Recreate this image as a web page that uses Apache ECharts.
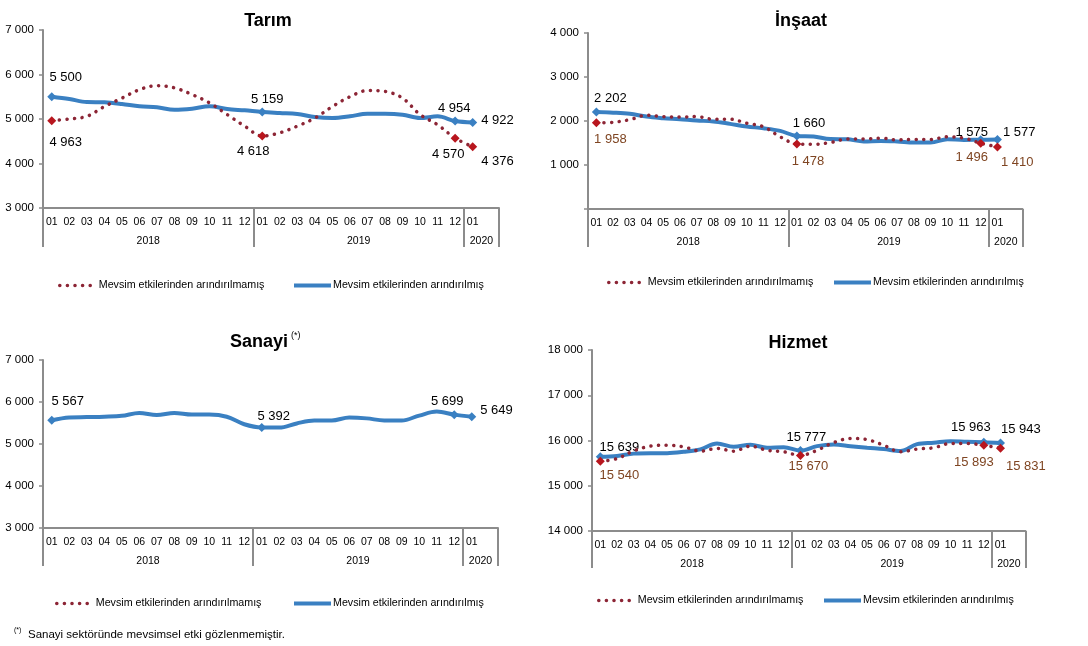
<!DOCTYPE html>
<html>
<head>
<meta charset="utf-8">
<title>İstihdam - sektörler</title>
<script src="https://cdn.jsdelivr.net/npm/echarts@6/dist/echarts.min.js"></script>
<style type="text/css">
html, body { margin: 0; padding: 0; background: #ffffff; }
#main { width: 1088px; height: 646px; }
</style>
</head>
<body>
<div id="main"></div>
<script type="text/javascript">
// kategoriler (ay) - sondaki bos kategori Excel'deki gibi
var months = ['01','02','03','04','05','06','07','08','09','10','11','12',
              '01','02','03','04','05','06','07','08','09','10','11','12','01',''];
// yil etiketleri (sinirlar arasi ortada)
var yearLabels = ['','','','','','','2018','','','','','','','','','','','','2019','','','','','','','2020',''];
var yearBounds = [0, 12, 24, 26];

var RED = 'Mevsim etkilerinden arındırılmamış';
var BLUE = 'Mevsim etkilerinden arındırılmış';

// Tarım
var tarimRaw = [4963, 5000, 5060, 5280, 5470, 5660, 5750, 5700, 5550, 5360, 5100, 4840, 4618,
                4690, 4840, 5020, 5280, 5500, 5640, 5620, 5470, 5100, 4870, 4570, 4376];
var tarimSa  = [5500, 5449, 5381, 5374, 5336, 5284, 5262, 5209, 5232, 5284, 5224, 5194, 5159,
                5135, 5112, 5045, 5022, 5060, 5120, 5120, 5097, 5022, 5060, 4954, 4922];
// İnşaat
var insaatRaw = [1958, 1970, 2030, 2130, 2100, 2090, 2100, 2040, 2040, 1950, 1870, 1640, 1478,
                 1470, 1510, 1590, 1590, 1610, 1570, 1580, 1580, 1640, 1610, 1496, 1410];
var insaatSa  = [2202, 2190, 2165, 2100, 2065, 2040, 2010, 1990, 1935, 1875, 1835, 1775, 1660,
                 1648, 1590, 1585, 1535, 1548, 1535, 1512, 1510, 1585, 1570, 1575, 1577];
// Sanayi
var sanayiSa = [5567, 5630, 5640, 5650, 5670, 5740, 5690, 5740, 5700, 5700, 5650, 5470, 5392,
                5390, 5490, 5560, 5560, 5630, 5610, 5560, 5560, 5677, 5772, 5699, 5649];
// Hizmet
var hizmetRaw = [15540, 15600, 15770, 15875, 15895, 15860, 15765, 15825, 15765, 15875, 15785, 15750, 15670,
                 15785, 15955, 16045, 16020, 15895, 15750, 15810, 15840, 15935, 15935, 15893, 15831];
var hizmetSa  = [15639, 15660, 15710, 15720, 15720, 15750, 15805, 15935, 15860, 15905, 15840, 15850, 15777,
                 15875, 15910, 15875, 15840, 15810, 15770, 15920, 15950, 15985, 15970, 15963, 15943];

// isaretli / etiketli noktalar
var markIdx = [0, 12, 23, 24];

var FONT = '"Liberation Sans", Arial, sans-serif';
var C_BLUE = '#3a80c2';
var C_DOT = '#8c2535';
var C_RED = '#b8161e';
var C_BROWN = '#7f4522';
var C_AXIS = '#8c8c8c';

var blueLine = { color: C_BLUE, width: 4 };
var dotLine = { color: C_DOT, width: 3.5, type: [0.1, 7.5], cap: 'round' };

function fmt(v) {
    if (v === 0) return '';
    return String(v).replace(/\B(?=(\d{3})+(?!\d))/g, ' ');
}

// etiket yerlesimi: index -> [konum, dx, dy]
function makeData(values, color, labelColor, lbl) {
    return values.map(function (v, i) {
        if (markIdx.indexOf(i) < 0) return v;
        var l = lbl[i];
        return {
            value: v,
            symbol: 'diamond',
            symbolSize: 9,
            itemStyle: { color: color },
            label: {
                show: true, position: l[0], offset: [l[1], l[2]], distance: 5,
                color: labelColor, fontSize: 13, fontFamily: FONT,
                formatter: function (p) { return fmt(p.value); }
            }
        };
    });
}

var grids = [
    { left: 43, top: 30, width: 456, height: 178, min: 3000, max: 7000, tick: 39 },
    { left: 588, top: 33, width: 434.5, height: 176, min: 0, max: 4000, tick: 38 },
    { left: 43, top: 360, width: 455, height: 168, min: 3000, max: 7000, tick: 38 },
    { left: 592, top: 350, width: 433.5, height: 181, min: 14000, max: 18000, tick: 37 }
];

var option = {
    animation: false,
    textStyle: { fontFamily: FONT },
    grid: [], xAxis: [], yAxis: [], series: [], legend: [],
    graphic: []
};

grids.forEach(function (g, k) {
    option.grid.push({ left: g.left, top: g.top, width: g.width, height: g.height, containLabel: false });
    // aylar
    option.xAxis.push({
        type: 'category', gridIndex: k, data: months, boundaryGap: true,
        axisLine: { lineStyle: { color: C_AXIS, width: 2 } },
        axisTick: { show: false },
        axisLabel: { interval: 0, margin: 9, fontSize: 10.5, color: '#000', fontFamily: FONT }
    });
    // yillar
    option.xAxis.push({
        type: 'category', gridIndex: k, data: yearLabels, boundaryGap: false, position: 'bottom',
        axisLine: { show: false },
        axisTick: {
            show: true, length: g.tick, lineStyle: { color: C_AXIS, width: 2 },
            interval: function (i) { return yearBounds.indexOf(i) >= 0; }
        },
        axisLabel: {
            margin: 28, fontSize: 10.5, color: '#000', fontFamily: FONT,
            interval: function (i, v) { return v !== ''; }
        }
    });
    option.yAxis.push({
        type: 'value', gridIndex: k, min: g.min, max: g.max, interval: 1000,
        splitLine: { show: false },
        axisLine: { show: true, lineStyle: { color: C_AXIS, width: 2 } },
        axisTick: { show: true, length: 4, lineStyle: { color: C_AXIS, width: 1.5 } },
        axisLabel: { margin: 9, fontSize: 11.5, color: '#000', fontFamily: FONT, formatter: fmt }
    });
});

function blueSeries(k, values, lbl) {
    return {
        name: BLUE, type: 'line', xAxisIndex: k * 2, yAxisIndex: k, z: 2,
        smooth: 0.35, symbol: 'none', showAllSymbol: true,
        lineStyle: blueLine,
        itemStyle: { color: C_BLUE },
        data: makeData(values, C_BLUE, '#000', lbl)
    };
}
function redSeries(k, values, labelColor, lbl) {
    return {
        name: RED, type: 'line', xAxisIndex: k * 2, yAxisIndex: k, z: 3,
        smooth: 0.35, symbol: 'none', showAllSymbol: true,
        lineStyle: dotLine,
        itemStyle: { color: C_DOT },
        data: makeData(values, C_RED, labelColor, lbl)
    };
}

option.series.push(
    blueSeries(0, tarimSa, { 0: ['top', 14, -3], 12: ['top', 5, 3], 23: ['top', -1, 3], 24: ['right', -1, -2] }),
    redSeries(0, tarimRaw, '#000', { 0: ['bottom', 14, 6], 12: ['bottom', -9, -1], 23: ['bottom', -7, 0], 24: ['right', -1, 15] }),
    blueSeries(1, insaatSa, { 0: ['top', 14, 2], 12: ['top', 12, 3], 23: ['top', -9, 9], 24: ['right', -4, -7] }),
    redSeries(1, insaatRaw, C_BROWN, { 0: ['bottom', 14, 1], 12: ['bottom', 11, 1], 23: ['bottom', -9, -2], 24: ['right', -6, 15] }),
    blueSeries(2, sanayiSa, { 0: ['top', 16, -3], 12: ['top', 12, 5], 23: ['top', -7, 3], 24: ['right', -1, -6] }),
    blueSeries(3, hizmetSa, { 0: ['top', 19, 7], 12: ['top', 6, 3], 23: ['top', -13, 1], 24: ['right', -9, -14] }),
    redSeries(3, hizmetRaw, C_BROWN, { 0: ['bottom', 19, -2], 12: ['bottom', 8, -5], 23: ['bottom', -10, 1], 24: ['right', -4, 18] })
);

// lejantlar: her biri tek kalem
var legendPos = [
    [RED, 58, 287], [BLUE, 292, 287],
    [RED, 607, 284], [BLUE, 832, 284],
    [RED, 55, 605], [BLUE, 292, 605],
    [RED, 597, 602], [BLUE, 822, 602]
];
legendPos.forEach(function (p) {
    option.legend.push({
        data: [p[0]], left: p[1], top: p[2] - 7, padding: 0,
        itemWidth: 37, itemHeight: 12, selectedMode: false,
        itemStyle: { opacity: 0 },
        lineStyle: p[0] === RED ? dotLine : blueLine,
        textStyle: { fontSize: 10.7, color: '#000', fontFamily: FONT, padding: [0, 0, 0, -3] }
    });
});

// basliklar ve dipnot
var titleFont = 'bold 18px ' + FONT;
option.graphic = [
    { type: 'text', x: 268, y: 21, style: { text: 'Tarım', font: titleFont, fill: '#000', align: 'center', verticalAlign: 'middle' } },
    { type: 'text', x: 801, y: 21, style: { text: 'İnşaat', font: titleFont, fill: '#000', align: 'center', verticalAlign: 'middle' } },
    { type: 'text', x: 259, y: 342, style: { text: 'Sanayi', font: titleFont, fill: '#000', align: 'center', verticalAlign: 'middle' } },
    { type: 'text', x: 291, y: 331, style: { text: '(*)', font: '9px ' + FONT, fill: '#000' } },
    { type: 'text', x: 798, y: 343, style: { text: 'Hizmet', font: titleFont, fill: '#000', align: 'center', verticalAlign: 'middle' } },
    { type: 'text', x: 14, y: 627, style: { text: '(*)', font: '7px ' + FONT, fill: '#000' } },
    { type: 'text', x: 28, y: 635, style: { text: 'Sanayi sektöründe mevsimsel etki gözlenmemiştir.', font: '11.5px ' + FONT, fill: '#000', verticalAlign: 'middle' } }
];

var chart = echarts.init(document.getElementById('main'));
chart.setOption(option);
</script>
</body>
</html>
